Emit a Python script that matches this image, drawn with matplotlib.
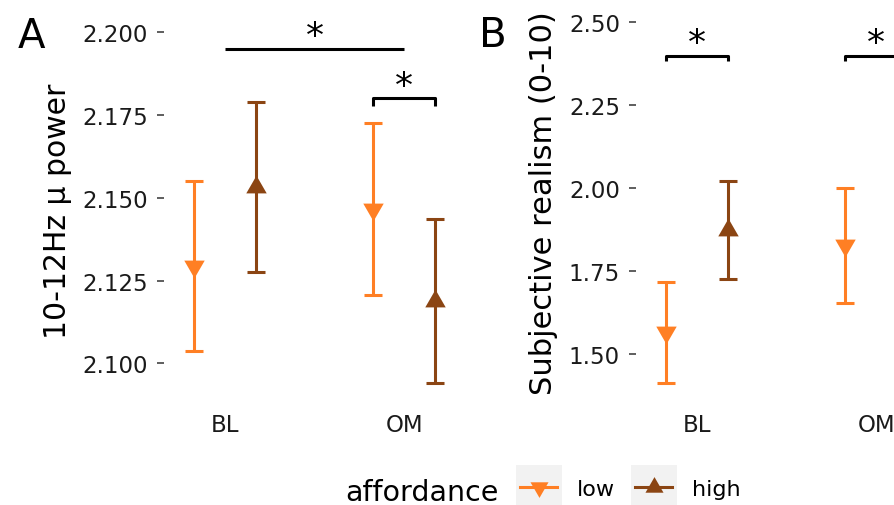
import numpy as np
import matplotlib.pyplot as plt
from matplotlib.lines import Line2D
from matplotlib.patches import Rectangle

# conditions on the x axis
conditions = ['BL', 'OM']

# panel A: 10-12Hz mu power, mean +/- se
mu_low_mean = [2.1294, 2.1466]
mu_low_se = [0.0258, 0.0260]
mu_high_mean = [2.1533, 2.1188]
mu_high_se = [0.0256, 0.0248]

# panel B: subjective realism (0-10), mean +/- se
real_low_mean = [1.565, 1.826]
real_low_se = [0.152, 0.172]
real_high_mean = [1.873, 2.10]
real_high_se = [0.147, 0.15]

# significance marks: (x start, x end, y, bracket leg)
sig_A = [(1.0, 2.0, 2.1951, 0.0), (1.825, 2.175, 2.1801, 0.0024)]
sig_B = [(0.825, 1.175, 2.398, 0.015), (1.825, 2.175, 2.398, 0.015)]

col_low = '#FF7F24'
col_high = '#8B4513'
tri_down = (3, 0, 180)
tri_up = (3, 0, 0)
dodge = 0.175

fig = plt.figure(figsize=(8.94, 5.06), dpi=100)
axA = fig.add_axes([164 / 894, 111 / 506, 301 / 894, 385 / 506])
axB = fig.add_axes([636 / 894, 111 / 506, 301 / 894, 385 / 506])


def draw_panel(ax, low_m, low_se, high_m, high_se, sigs):
    x = np.arange(1, len(conditions) + 1)
    for xs, m, se, c, mk in [(x - dodge, low_m, low_se, col_low, tri_down),
                             (x + dodge, high_m, high_se, col_high, tri_up)]:
        ax.errorbar(xs, m, yerr=se, fmt='none', ecolor=c, elinewidth=2.2,
                    capsize=6.5, capthick=2.2, clip_on=False)
        ax.plot(xs, m, ls='none', marker=mk, ms=17, mew=0, color=c,
                clip_on=False, zorder=4)
    for x1, x2, y, leg in sigs:
        ax.plot([x1, x1, x2, x2], [y - leg, y, y, y - leg], color='black',
                lw=2.2, clip_on=False, solid_capstyle='butt')
        ax.annotate('*', xy=((x1 + x2) / 2, y), xytext=(0, 1.5),
                    textcoords='offset points', ha='center', va='baseline',
                    fontsize=26, annotation_clip=False)
    ax.set_xticks(x)
    ax.set_xticklabels(conditions)
    ax.set_xlim(0.66, 2.34)
    for s in ax.spines.values():
        s.set_visible(False)
    ax.tick_params(axis='x', length=0, pad=14, labelsize=16.5, labelcolor='#1a1a1a')
    ax.tick_params(axis='y', length=5, width=1.1, color='#333333', pad=6.5,
                   labelsize=16.5, labelcolor='#1a1a1a')


draw_panel(axA, mu_low_mean, mu_low_se, mu_high_mean, mu_high_se, sig_A)
axA.set_ylim(2.09073, 2.20704)
axA.set_yticks([2.100, 2.125, 2.150, 2.175, 2.200])
axA.set_yticklabels(['%.3f' % v for v in [2.100, 2.125, 2.150, 2.175, 2.200]])
axA.set_ylabel('10-12Hz µ power', fontsize=21.5)
axA.yaxis.set_label_coords(-0.306, 0.478)

draw_panel(axB, real_low_mean, real_low_se, real_high_mean, real_high_se, sig_B)
axB.set_ylim(1.3786, 2.5383)
axB.set_yticks([1.50, 1.75, 2.00, 2.25, 2.50])
axB.set_yticklabels(['%.2f' % v for v in [1.50, 1.75, 2.00, 2.25, 2.50]])
axB.set_ylabel('Subjective realism (0-10)', fontsize=22)
axB.yaxis.set_label_coords(-0.259, 0.499)

fig.text(31 / 894, 1 - 48 / 506, 'A', fontsize=29, ha='center', va='baseline')
fig.text(493 / 894, 1 - 47 / 506, 'B', fontsize=29, ha='center', va='baseline')

# legend
fig.text(345 / 894, 1 - 501 / 506, 'affordance', fontsize=20.5, ha='left', va='baseline')
for xl in [516, 631]:
    fig.add_artist(Rectangle((xl / 894, 0), 46 / 894, 40 / 506, transform=fig.transFigure,
                             facecolor='#F2F2F2', edgecolor='none', zorder=1))
handles = [Line2D([0], [0], color=col_low, lw=2.2, marker=tri_down, ms=15, mew=0),
           Line2D([0], [0], color=col_high, lw=2.2, marker=tri_up, ms=15, mew=0)]
fig.legend(handles, ['low', 'high'], loc='center left', ncol=2, frameon=False,
           bbox_to_anchor=(520 / 894, 1 - 490 / 506), borderpad=0, borderaxespad=0,
           handlelength=1.67, handletextpad=0.9, columnspacing=0.9, fontsize=16)

fig.savefig('out.png', dpi=100)
